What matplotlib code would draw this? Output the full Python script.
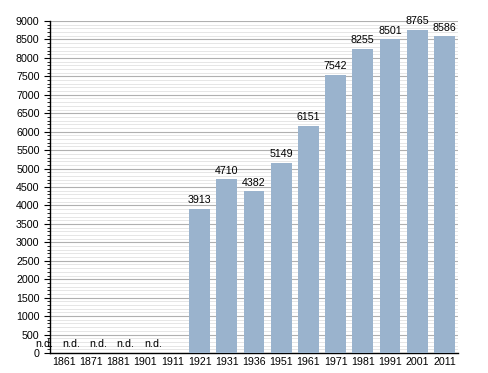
import numpy as np
import matplotlib.pyplot as plt
from matplotlib.ticker import MultipleLocator

years = ['1861', '1871', '1881', '1901', '1911', '1921', '1931', '1936',
         '1951', '1961', '1971', '1981', '1991', '2001', '2011']
population = [0, 0, 0, 0, 0, 3913, 4710, 4382, 5149, 6151, 7542, 8255,
              8501, 8765, 8586]
no_data = ['n.d.', 'n.d.', 'n.d.', 'n.d.', 'n.d.', '', '', '', '', '', '',
           '', '', '', '']

plt.rcParams['font.family'] = ['Liberation Sans', 'DejaVu Sans']
FS = 7.7

fig = plt.figure(figsize=(4.88, 3.73), dpi=100)
ax = fig.add_axes([0.1025, 0.0536, 0.836, 0.89])

x = np.arange(len(years))
ax.bar(x, population, width=0.77, color='#9ab3cd', zorder=3)

for i, v in enumerate(population):
    if v > 0:
        ax.text(x[i], v + 100, str(v), ha='center', va='bottom', fontsize=FS, zorder=4)
    elif no_data[i]:
        # the n.d. labels sit left of their slots in the original
        ax.text(x[i] - 0.72, 240, no_data[i], ha='center', va='center',
                fontsize=FS, zorder=4, clip_on=False)

ax.set_xlim(-0.5, len(years) - 0.5)
ax.set_ylim(0, 9000)
ax.set_xticks(x)
ax.set_xticklabels(years, fontsize=FS)
ax.yaxis.set_major_locator(MultipleLocator(500))
ax.yaxis.set_minor_locator(MultipleLocator(100))
ax.tick_params(axis='y', which='major', labelsize=FS, length=4, width=0.8)
ax.tick_params(axis='y', which='minor', length=2, width=0.6)
ax.tick_params(axis='x', length=0, pad=3)
ax.grid(axis='y', which='major', color='#b0b0b0', linewidth=0.8, zorder=0)
ax.grid(axis='y', which='minor', color='#e2e2e2', linewidth=0.6, zorder=0)
ax.set_axisbelow(True)
for s in ['top', 'right']:
    ax.spines[s].set_visible(False)
ax.spines['left'].set_linewidth(1.0)
ax.spines['bottom'].set_linewidth(1.0)

fig.savefig('out.png', dpi=100)
